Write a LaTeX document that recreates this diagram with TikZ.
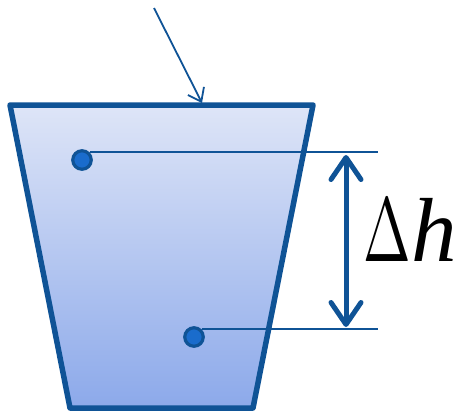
\documentclass[tikz,border=0pt]{standalone}
\usepackage{fontspec}
\newfontfamily\tnr{Liberation Serif}
\usetikzlibrary{arrows.meta}
\definecolor{edge}{HTML}{0F5396}
\definecolor{dotc}{HTML}{1A6CCC}
\definecolor{topc}{HTML}{DEE5F7}
\definecolor{botc}{HTML}{8CA9EA}
\tikzset{pt/.style={draw=edge,circle,fill=dotc,line width=3.2pt,minimum size=18.5pt,inner sep=0pt},lvl/.style={edge,line width=1.8pt},barb/.tip={Straight Barb[length=22pt,width=30pt,round]},dim/.style={edge,line width=5pt,barb-barb}}

\begin{document}
\begin{tikzpicture}[x=1pt,y=-1pt]
\useasboundingbox(0,0)rectangle(462,410);
\draw[edge,line width=5.5pt,line join=round,top color=topc,bottom color=botc](10,105)--(313,105)--(253,408)--(70,408)--cycle;
\node[pt](a)at(82,160){};\node[pt](b)at(194,337){};
\coordinate(ra)at(378,152);\coordinate(rb)at(378,329);
\draw[lvl](a.45|-ra)--(ra);\draw[lvl](b.45|-rb)--(rb);
\coordinate(ta)at(346,155);\coordinate(tb)at(346,327);
\draw[dim](ta)--(tb);
\node[font=\tnr\fontsize{91}{91}\selectfont,inner sep=0pt](dh)at(410,230){\scalebox{5.7}[9.1]{\normalsize$\Delta$}\textit{h}};
\coordinate(src)at(154,8);\coordinate(hit)at(202,103);
\draw[lvl,-{Straight Barb[length=12pt,width=18pt]}](src)--(hit);
\end{tikzpicture}
\end{document}
